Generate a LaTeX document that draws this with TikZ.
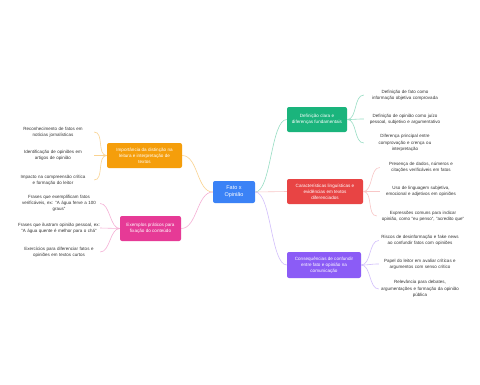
\documentclass[tikz,border=0pt]{standalone}
\usepackage{fontspec}
\setmainfont{Liberation Sans}
\usetikzlibrary{positioning, calc}

\definecolor{hubblue}{RGB}{59,130,246}
\definecolor{defgreen}{RGB}{26,180,124}
\definecolor{lingred}{RGB}{232,68,68}
\definecolor{consviolet}{RGB}{139,92,246}
\definecolor{readorange}{RGB}{245,158,11}
\definecolor{exampink}{RGB}{230,58,150}

\begin{document}
\begin{tikzpicture}[
    x=1pt, y=-1pt,
    box/.style={rounded corners=2pt, align=center, text=white, inner sep=1pt,
                font=\fontsize{4.6}{6}\selectfont},
    leaf/.style={align=center, inner sep=0pt, text width=82pt, text=black!80,
                 font=\fontsize{4.5}{6.3}\selectfont},
    link/.style={line width=0.6pt},
]
\fill[white] (0,0) rectangle (480,384);
\useasboundingbox (0,0) rectangle (480,384);

% ---- Central topic ----
\node[box, fill=hubblue, minimum width=42pt, minimum height=22pt,
      font=\fontsize{5.5}{7}\selectfont] (hub) at (234,192) {Fato x\\Opinião};

% ---- Right branches ----
\node[box, fill=defgreen, minimum width=60pt, minimum height=25pt] (defin) at (317,119.5)
    {Definição clara e\\diferenças fundamentais};
\node[box, fill=lingred, minimum width=76pt, minimum height=25pt] (ling) at (325,191.5)
    {Características linguísticas e\\evidências em textos\\diferenciados};
\node[box, fill=consviolet, minimum width=74pt, minimum height=26pt] (cons) at (324,265)
    {Consequências de confundir\\entre fato e opinião na\\comunicação};

% ---- Left branches ----
\node[box, fill=readorange, minimum width=75pt, minimum height=25pt] (read) at (144.5,155.5)
    {Importância da distinção na\\leitura e interpretação de\\textos};
\node[box, fill=exampink, minimum width=61pt, minimum height=25pt] (exam) at (150.5,228.5)
    {Exemplos práticos para\\fixação do conteúdo};

% Central topic to branches
\draw[link, draw=defgreen!45] (hub.east) .. controls +(16,0) and +(-16,0) .. (defin.west);
\draw[link, draw=lingred!30] (hub.east) .. controls +(16,0) and +(-16,0) .. (ling.west);
\draw[link, draw=consviolet!40] (hub.east) .. controls +(16,0) and +(-16,0) .. (cons.west);
\draw[link, draw=readorange!45] (hub.west) .. controls +(-16,0) and +(16,0) .. (read.east);
\draw[link, draw=exampink!40] (hub.west) .. controls +(-16,0) and +(16,0) .. (exam.east);

% ---- Leaves: definition ----
\node[leaf] (defin-a) at (405,95)
    {Definição de fato como\\informação objetiva comprovada};
\node[leaf] (defin-b) at (405,119)
    {Definição de opinião como juízo\\pessoal, subjetivo e argumentativo};
\node[leaf] (defin-c) at (405,143)
    {Diferença principal entre\\comprovação e crença ou\\interpretação};

% ---- Leaves: linguistic features ----
\node[leaf] (ling-a) at (421,167.5)
    {Presença de dados, números e\\citações verificáveis em fatos};
\node[leaf] (ling-b) at (421,191.5)
    {Uso de linguagem subjetiva,\\emocional e adjetivos em opiniões};
\node[leaf, text width=92pt] (ling-c) at (423,216)
    {Expressões comuns para indicar\\opinião, como "eu penso", "acredito que"};

% ---- Leaves: consequences ----
\node[leaf] (cons-a) at (420,240.5)
    {Riscos de desinformação e fake news\\ao confundir fatos com opiniões};
\node[leaf] (cons-b) at (420,264)
    {Papel do leitor em avaliar críticas e\\argumentos com senso crítico};
\node[leaf] (cons-c) at (420,289)
    {Relevância para debates,\\argumentações e formação da opinião\\pública};

% ---- Leaves: reading ----
\node[leaf] (read-a) at (53,132)
    {Reconhecimento de fatos em\\notícias jornalísticas};
\node[leaf] (read-b) at (53,155.5)
    {Identificação de opiniões em\\artigos de opinião};
\node[leaf] (read-c) at (53,180)
    {Impacto na compreensão crítica\\e formação do leitor};

% ---- Leaves: examples ----
\node[leaf] (exam-a) at (59,203.5)
    {Frases que exemplificam fatos\\verificáveis, ex: "A água ferve a 100\\graus"};
\node[leaf] (exam-b) at (59,228)
    {Frases que ilustram opinião pessoal, ex:\\"A água quente é melhor para o chá"};
\node[leaf] (exam-c) at (59,252)
    {Exercícios para diferenciar fatos e\\opiniões em textos curtos};

% Branches to leaves
\foreach \leaf in {defin-a, defin-b, defin-c}
    \draw[link, draw=defgreen!45] (defin.east) .. controls +(10,0) and +(-10,0) .. (\leaf.west);
\foreach \leaf in {ling-a, ling-b, ling-c}
    \draw[link, draw=lingred!30] (ling.east) .. controls +(10,0) and +(-10,0) .. (\leaf.west);
\foreach \leaf in {cons-a, cons-b, cons-c}
    \draw[link, draw=consviolet!40] (cons.east) .. controls +(10,0) and +(-10,0) .. (\leaf.west);
\foreach \leaf in {read-a, read-b, read-c}
    \draw[link, draw=readorange!45] (read.west) .. controls +(-10,0) and +(10,0) .. (\leaf.east);
\foreach \leaf in {exam-a, exam-b, exam-c}
    \draw[link, draw=exampink!40] (exam.west) .. controls +(-10,0) and +(10,0) .. (\leaf.east);

\end{tikzpicture}
\end{document}
